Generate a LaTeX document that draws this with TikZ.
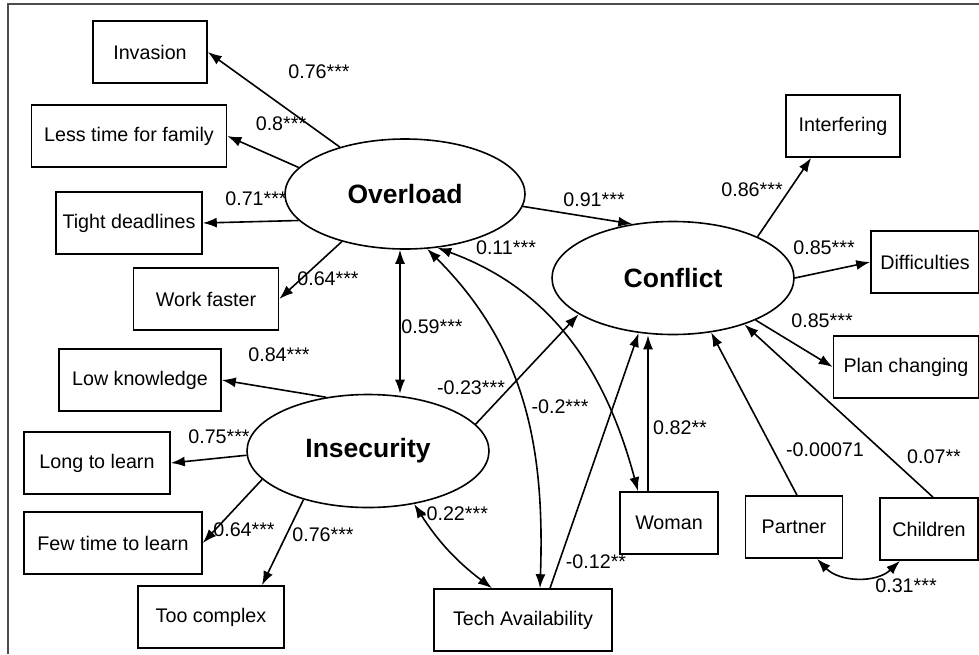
\documentclass[tikz,border=0pt]{standalone}
\usepackage{fontspec}
\setmainfont{Liberation Sans}
\usetikzlibrary{arrows.meta,positioning,shapes}

\begin{document}
\begin{tikzpicture}[x=1pt,y=1pt,>={Latex[length=14pt,width=10pt]},->,semithick]
  \tikzstyle{every node}=[font=\fontsize{19.7}{22}\selectfont]
  \tikzstyle{obs}=[draw,rectangle,line width=1.6pt,minimum height=62pt,inner sep=0pt]
  \tikzstyle{latent}=[draw,ellipse,line width=1.6pt,inner sep=0pt,font=\fontsize{26.5}{30}\selectfont\bfseries]
  \tikzstyle{lbl}=[inner sep=0pt]
  \tikzstyle{every path}=[line width=1.6pt]

  \useasboundingbox (0,0) rectangle (979,-654);
  \draw[-,gray!60!black,line width=1.5pt] (8,-654) -- (8,-4) -- (979,-4);

  % latent variables
  \node[latent,minimum width=240pt,minimum height=110pt] (overload) at (405,-194) {Overload};
  \node[latent,minimum width=242pt,minimum height=113pt] (conflict) at (673,-278) {Conflict};
  \node[latent,minimum width=242pt,minimum height=113pt] (insec) at (368,-451) {Insecurity};

  % indicators
  \node[obs,minimum width=114pt] (inv)       at (150,-52)  {Invasion};
  \node[obs,minimum width=195pt] (lesstime)  at (129,-136) {Less time for family};
  \node[obs,minimum width=146pt] (tight)     at (129,-223) {Tight deadlines};
  \node[obs,minimum width=145pt] (faster)    at (206,-299) {Work faster};
  \node[obs,minimum width=114pt] (interf)    at (843,-126) {Interfering};
  \node[obs,minimum width=108pt] (diffic)    at (925,-262) {Difficulties};
  \node[obs,minimum width=145pt] (plan)      at (906,-367) {Plan changing};
  \node[obs,minimum width=162pt] (lowknow)   at (140,-380) {Low knowledge};
  \node[obs,minimum width=146pt] (longlearn) at (97,-463)  {Long to learn};
  \node[obs,minimum width=178pt] (fewtime)   at (113,-543) {Few time to learn};
  \node[obs,minimum width=146pt] (complex)   at (211,-617) {Too complex};
  \node[obs,minimum width=178pt] (tech)      at (523,-620) {Tech Availability};
  \node[obs,minimum width=98pt]  (woman)     at (669,-523) {Woman};
  \node[obs,minimum width=97pt]  (partner)   at (794,-527) {Partner};
  \node[obs,minimum width=98pt]  (children)  at (929,-529) {Children};

  \path (overload) edge (inv.east)
  (overload.166) edge (lesstime.east)
  (overload.194) edge (tight.east)
  (overload.217) edge (faster.east)
  (overload.-6) edge (conflict.127)
  (conflict.26) edge (interf.-135)
  (conflict.east) edge (diffic.west)
  (conflict.-27) edge (plan.west)
  (insec.128) edge (lowknow.east)
  (insec.182) edge (longlearn.east)
  (insec.195) edge (fewtime.east)
  (insec.217) edge ([xshift=51pt]complex.north)
  (insec.14) edge (conflict.201)
  ([xshift=27pt]tech.north) edge (conflict.-122)
  ([xshift=-21pt]woman.north) edge ([xshift=-21pt]woman.north |- conflict.south)
  ([xshift=3pt]partner.north) edge (conflict.-55)
  ([xshift=4pt]children.north) edge (conflict.-33)
  ([xshift=-5pt]overload.south) edge[<->] ([xshift=32pt]insec.north)
  (overload.-68) edge[<->,out=-45,in=88] ([xshift=17pt]tech.north)
  (overload.-59) edge[<->,out=-20,in=105] ([xshift=-31pt]woman.north)
  (insec.-49) edge[<->,bend right=10] ([xshift=-31pt]tech.north)
  ([xshift=23pt]partner.south) edge[<->,bend right=45] ([xshift=-29pt]children.south)
  ;

  % coefficients
  \node[lbl] (c1)  at (319,-72)  {0.76***};
  \node[lbl] (c2)  at (281,-124) {0.8***};
  \node[lbl] (c3)  at (256,-199) {0.71***};
  \node[lbl] (c4)  at (328,-279) {0.64***};
  \node[lbl] (c5)  at (432,-327) {0.59***};
  \node[lbl] (c6)  at (506,-248) {0.11***};
  \node[lbl] (c7)  at (594,-200) {0.91***};
  \node[lbl] (c8)  at (752,-190) {0.86***};
  \node[lbl] (c9)  at (824,-248) {0.85***};
  \node[lbl] (c10) at (822,-321) {0.85***};
  \node[lbl] (c11) at (279,-355) {0.84***};
  \node[lbl] (c12) at (219,-437) {0.75***};
  \node[lbl] (c13) at (244,-530) {0.64***};
  \node[lbl] (c14) at (323,-535) {0.76***};
  \node[lbl] (c15) at (471,-388) {-0.23***};
  \node[lbl] (c16) at (560,-407) {-0.2***};
  \node[lbl] (c17) at (454,-514) {-0.22***};
  \node[lbl] (c18) at (596,-562) {-0.12**};
  \node[lbl] (c19) at (680,-428) {0.82**};
  \node[lbl] (c20) at (825,-450) {-0.00071};
  \node[lbl] (c21) at (934,-457) {0.07**};
  \node[lbl] (c22) at (906,-586) {0.31***};
\end{tikzpicture}
\end{document}
